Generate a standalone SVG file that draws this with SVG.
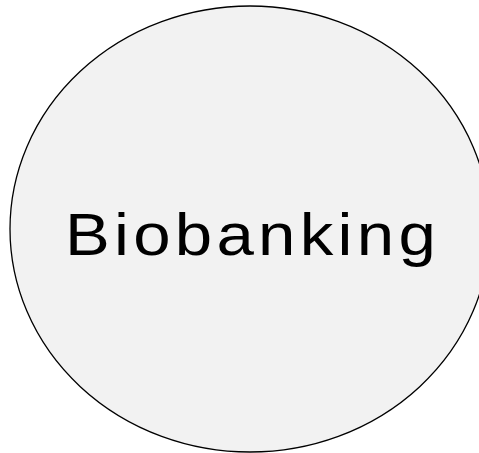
<svg xmlns="http://www.w3.org/2000/svg" width="479" height="453" viewBox="0 0 479 453">
<style>
.node{fill:#f2f2f2;stroke:#000;stroke-width:1.3}
.lbl{font-family:"Liberation Sans",Arial,sans-serif;font-size:60px;fill:#000;letter-spacing:3.8px}
</style>
<rect width="479" height="453" fill="#fff"/>
<g id="connectors"></g>
<g id="biobanking">
<ellipse class="node" cx="250" cy="229" rx="240" ry="223"/>
<text class="lbl" transform="translate(65,255) scale(1.12,1)" x="0" y="0">Biobanking</text>
</g>
</svg>
